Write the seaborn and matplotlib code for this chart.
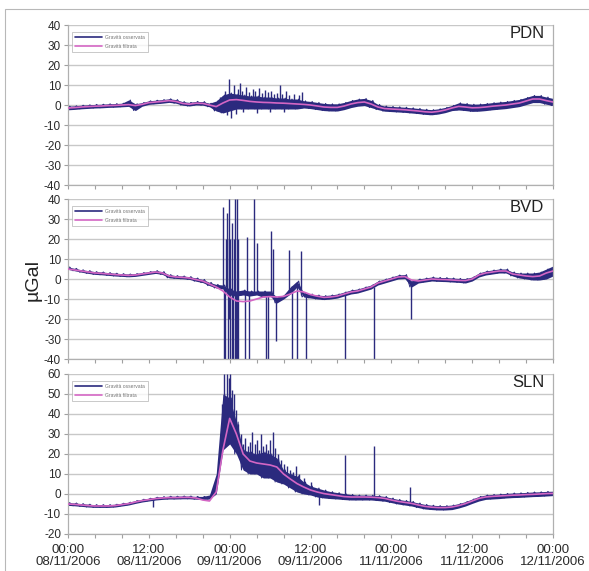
import numpy as np
import pandas as pd
import matplotlib
matplotlib.use("Agg")
import matplotlib.pyplot as plt
from matplotlib.patches import Rectangle
import seaborn as sns

# ---------------------------------------------------------------- data
hours = list(range(73))  # hourly samples from 08/11/2006 00:00

tick_hours = [0, 12, 24, 36, 48, 60, 72]
tick_labels = ["00:00\n08/11/2006", "12:00\n08/11/2006", "00:00\n09/11/2006",
               "12:00\n09/11/2006", "00:00\n11/11/2006", "12:00\n11/11/2006",
               "00:00\n12/11/2006"]

# PDN station
pdn_filt = [-1.5, -1.3, -1.0, -0.8, -0.6, -0.5, -0.3, -0.2, 0.0, 0.2,
            -0.3, 0.3, 1.2, 1.5, 1.8, 2.2, 1.8, 0.8, 0.4, 0.9,
            0.8, 0.0, -0.8, 1.0, 2.5, 2.7, 2.3, 1.8, 1.5, 1.3,
            1.2, 1.0, 0.9, 0.7, 0.5, 0.3, 0.0, -0.5, -1.0, -1.2,
            -1.2, -0.5, 0.5, 1.2, 1.5, 0.5, -1.0, -1.8, -2.0, -2.2,
            -2.4, -2.7, -3.0, -3.4, -3.6, -3.2, -2.5, -1.5, -0.7, -1.0,
            -1.4, -1.3, -1.0, -0.6, -0.3, 0.0, 0.5, 1.0, 2.0, 3.0,
            3.0, 2.2, 1.5]
pdn_hi = [-0.6, -0.4, -0.1, 0.1, 0.3, 0.4, 0.6, 0.7, 0.9, 2.5,
          0.6, 1.2, 2.1, 2.4, 2.7, 3.1, 2.7, 1.7, 1.3, 1.8,
          1.7, 0.9, 2.0, 5.0, 6.0, 5.5, 5.0, 4.5, 4.5, 4.0,
          4.0, 3.5, 3.5, 3.0, 3.0, 2.1, 1.8, 1.3, 0.8, 0.6,
          0.6, 1.3, 2.3, 3.0, 3.3, 2.3, 0.3, -0.5, -0.7, -0.9,
          -1.1, -1.4, -1.7, -2.1, -2.3, -1.9, -1.2, -0.2, 1.1, 0.8,
          0.4, 0.5, 0.8, 1.2, 1.5, 1.8, 2.3, 2.8, 3.8, 4.8,
          4.8, 4.0, 3.3]
pdn_lo = [-2.4, -2.2, -1.9, -1.7, -1.5, -1.4, -1.2, -1.1, -0.9, -0.7,
          -2.8, -0.6, 0.3, 0.6, 0.9, 1.3, 0.9, -0.1, -0.5, 0.0,
          -0.1, -0.9, -3.0, -4.0, -3.0, -2.0, -2.0, -2.0, -2.0, -2.0,
          -2.0, -2.0, -2.0, -2.0, -2.0, -1.5, -1.8, -2.3, -2.8, -3.0,
          -3.0, -2.3, -1.3, -0.6, -0.3, -1.3, -2.3, -3.1, -3.3, -3.5,
          -3.7, -4.0, -4.3, -4.7, -4.9, -4.5, -3.8, -2.8, -2.5, -2.8,
          -3.2, -3.1, -2.8, -2.4, -2.1, -1.8, -1.3, -0.8, 0.2, 1.2,
          1.2, 0.4, -0.3]
pdn_spike_t = [22.6, 23.3, 23.6, 23.9, 24.2, 24.6, 25.0, 25.2, 25.5, 25.9,
               26.0, 26.4, 26.9, 27.4, 27.8, 28.0, 28.3, 28.8, 29.3, 29.7,
               30.0, 30.2, 30.6, 31.0, 31.4, 31.8, 32.0, 32.3, 32.8, 33.5,
               34.3, 34.8]
pdn_spike_v = [4.0, 7.0, -5.0, 13.0, -6.5, 10.0, -4.5, 8.0, 11.0, 7.0,
               -3.5, 9.0, 6.5, 8.0, 7.0, -4.0, 8.5, 6.0, 7.5, 6.5,
               -3.5, 7.0, 5.5, 6.0, 10.0, 5.5, -3.5, 7.0, 5.0, 5.5,
               5.0, 6.5]

# BVD station
bvd_filt = [5.0, 4.5, 4.0, 3.5, 3.0, 2.8, 2.5, 2.2, 2.0, 1.8,
            2.0, 2.5, 3.0, 3.5, 3.0, 1.5, 1.0, 0.8, 0.5, -0.3,
            -1.0, -2.5, -4.0, -6.0, -9.0, -11.0, -11.3, -11.0, -10.0, -9.0,
            -8.8, -9.0, -8.7, -7.5, -6.0, -6.5, -7.8, -8.6, -9.2, -9.0,
            -8.5, -7.5, -6.5, -6.0, -5.0, -4.0, -2.0, -1.0, 0.0, 1.0,
            1.2, -0.5, -1.0, -0.5, 0.0, -0.2, -0.3, -0.5, -0.7, -0.8,
            0.0, 2.0, 3.0, 3.5, 4.0, 4.0, 2.5, 2.0, 1.5, 1.2,
            1.5, 3.0, 4.0]
bvd_hi = [6.0, 5.3, 4.6, 4.2, 3.7, 3.5, 3.2, 2.9, 2.7, 2.5,
          2.7, 3.2, 3.7, 4.2, 3.7, 2.2, 1.7, 1.5, 1.2, 0.5,
          -0.2, -1.7, -2.7, -3.0, -5.0, -6.0, -5.5, -6.0, -6.0, -6.0,
          -6.0, -9.0, -8.0, -4.0, -1.0, -7.0, -7.5, -8.0, -8.3, -8.0,
          -7.5, -6.5, -5.5, -5.0, -4.0, -3.0, -1.0, 0.0, 1.0, 2.0,
          2.2, -1.0, 0.0, 0.5, 1.0, 0.8, 0.7, 0.5, 0.3, 0.2,
          1.0, 3.0, 4.0, 4.5, 5.0, 5.0, 3.5, 3.0, 3.0, 3.0,
          3.5, 5.0, 6.5]
bvd_lo = [4.8, 4.1, 3.4, 2.8, 2.3, 2.1, 1.8, 1.5, 1.3, 1.1,
          1.3, 1.8, 2.3, 2.8, 2.3, 0.6, 0.3, 0.1, -0.2, -1.1,
          -1.8, -3.3, -4.5, -5.0, -8.0, -8.5, -8.0, -8.5, -8.0, -9.0,
          -8.5, -12.0, -10.0, -7.5, -4.0, -9.0, -9.5, -10.0, -10.3, -10.0,
          -9.5, -8.5, -7.5, -7.0, -6.0, -5.0, -3.0, -2.0, -1.0, 0.0,
          0.2, -4.0, -2.0, -1.5, -1.0, -1.2, -1.3, -1.5, -1.7, -2.0,
          -1.0, 1.0, 2.0, 2.5, 3.0, 3.0, 1.5, 0.5, 0.0, -0.5,
          -0.5, 0.0, 1.5]
bvd_spike_t = [23.05, 23.15, 23.3, 23.45, 23.56, 23.65, 23.75, 23.85, 23.95, 24.05,
               24.12, 24.3, 24.4, 24.5, 24.65, 24.75, 24.8, 24.94, 25.05, 25.13,
               25.2, 25.3, 26.28, 26.53, 26.9, 27.54, 28.13, 29.32, 29.74, 30.09,
               30.5, 30.88, 32.85, 33.3, 34.04, 34.59, 35.33, 41.12, 45.47, 50.88]
bvd_spike_v = [36, -40, -40, 20, 33, 20, -40, -20, 40, 20,
               -40, 28, -40, -40, 20, -40, 40, -40, -40, 40,
               20, -40, -40, 21, -40, 40, 18, -40, -40, 24,
               15, -31, 14.5, -40, -40, 14, -40, -40, -40, -20]

# SLN station
sln_filt = [-5.0, -5.2, -5.5, -5.8, -6.0, -6.0, -6.0, -5.8, -5.3, -4.8,
            -4.0, -3.3, -2.8, -2.3, -2.0, -1.8, -1.8, -1.7, -1.7, -2.0,
            -3.0, -3.5, 1.0, 22.0, 37.8, 30.0, 20.0, 16.5, 15.5, 15.0,
            14.5, 13.5, 10.0, 7.5, 5.2, 3.5, 2.0, 1.0, 0.2, -0.3,
            -0.8, -1.3, -1.5, -1.5, -1.5, -1.6, -1.8, -2.2, -3.0, -3.7,
            -4.2, -4.7, -5.5, -6.2, -6.6, -6.8, -6.8, -6.5, -5.8, -4.8,
            -3.5, -2.2, -1.5, -1.2, -1.0, -0.8, -0.6, -0.5, -0.3, -0.2,
            0.0, 0.2, 0.3]
sln_hi = [-4.3, -4.5, -4.8, -5.1, -5.3, -5.3, -5.3, -5.1, -4.6, -4.1,
          -3.3, -2.6, -2.1, -1.6, -1.3, -1.1, -1.1, -1.0, -1.0, -1.2,
          -1.2, -0.5, 10.0, 50.0, 48.0, 36.0, 22.0, 21.0, 20.0, 21.0,
          20.0, 18.0, 12.0, 10.0, 9.0, 6.0, 4.0, 3.0, 2.0, 1.2,
          0.7, 0.2, -0.2, -0.5, -0.5, -0.6, -0.8, -1.2, -2.0, -2.7,
          -3.2, -3.7, -4.5, -5.2, -5.6, -5.8, -5.8, -5.5, -4.8, -3.8,
          -2.5, -1.2, -0.5, -0.2, 0.0, 0.3, 0.5, 0.6, 0.8, 1.0,
          1.1, 1.3, 1.4]
sln_lo = [-5.7, -5.9, -6.2, -6.5, -6.7, -6.7, -6.7, -6.5, -6.0, -5.5,
          -4.7, -4.0, -3.5, -3.0, -2.7, -2.5, -2.5, -2.4, -2.4, -2.6,
          -2.8, -2.5, 0.0, 22.0, 25.0, 20.0, 12.0, 10.0, 10.0, 8.0,
          8.0, 6.0, 5.0, 3.0, 1.0, 0.0, -0.5, -1.5, -2.0, -2.3,
          -2.5, -2.8, -3.0, -3.0, -3.0, -3.0, -3.3, -3.6, -4.3, -5.0,
          -5.5, -6.0, -6.8, -7.5, -7.8, -8.0, -8.0, -7.8, -7.0, -6.0,
          -4.7, -3.5, -2.7, -2.5, -2.3, -2.0, -1.8, -1.7, -1.5, -1.3,
          -1.2, -1.0, -0.8]
sln_spike_t = [12.6, 22.9, 23.2, 23.6, 23.9, 24.1, 24.4, 24.7, 25.0, 25.3,
               25.7, 26.0, 26.3, 26.7, 27.0, 27.3, 27.7, 28.0, 28.3, 28.6,
               29.0, 29.4, 29.7, 30.0, 30.4, 30.8, 31.2, 31.6, 32.0, 32.5,
               33.0, 33.4, 33.8, 34.3, 35.0, 36.0, 37.2, 41.1, 45.4, 50.8]
sln_spike_v = [-6.5, 45, 60, 60, 58, 60, 52, 50, 42, 35,
               30, 25, 28, 24, 26, 31, 25, 27, 22, 30,
               24, 25, 22, 27, 31, 23, 20, 17, 15, 14,
               12, 11, 14, 10, 8, 6, -5.5, 19.5, 24, 3.3]

stations = [
    ("PDN", pdn_filt, pdn_hi, pdn_lo, pdn_spike_t, pdn_spike_v, (-40, 40)),
    ("BVD", bvd_filt, bvd_hi, bvd_lo, bvd_spike_t, bvd_spike_v, (-40, 40)),
    ("SLN", sln_filt, sln_hi, sln_lo, sln_spike_t, sln_spike_v, (-20, 60)),
]

OBS_COLOR = "#2b2a7e"
FILT_COLOR = "#d466c4"
GRID_COLOR = "#c8c8c8"


def swing_frame(lo, hi):
    """Observed record as its hourly low/high swing, traced as one line."""
    h = np.asarray(hours, dtype=float)
    t = np.concatenate([h - 0.25, h + 0.25])
    v = np.concatenate([lo, hi])
    return pd.DataFrame({"t": t, "v": v}).sort_values("t")


# ---------------------------------------------------------------- figure
sns.set_style("white")
plt.rcParams["font.family"] = ["Liberation Sans", "DejaVu Sans"]
plt.rcParams["axes.unicode_minus"] = False

fig = plt.figure(figsize=(5.89, 5.71), dpi=100)

# light frame around the chart area
fig.patches.append(Rectangle((5 / 589, -0.02), 1.0, (571 - 9.5) / 571 + 0.02,
                             transform=fig.transFigure, fill=False,
                             edgecolor="#b8b8b8", linewidth=0.8))

left, width = 68 / 589, 485 / 589
panel_tops = [25, 199, 374]
panel_h = 160

axes = []
for (name, filt, hi, lo, st, sv, ylim), top in zip(stations, panel_tops):
    bottom = (571 - top - panel_h) / 571
    ax = fig.add_axes([left, bottom, width, panel_h / 571])
    axes.append(ax)

    # observed gravity: filled hourly swing, its trace and the isolated spikes
    ax.fill_between(hours, lo, hi, color=OBS_COLOR, lw=0, zorder=2)
    sns.lineplot(data=swing_frame(lo, hi), x="t", y="v", ax=ax,
                 color=OBS_COLOR, lw=0.7, estimator=None, sort=False,
                 label="Gravità osservata", zorder=2)
    idx = np.clip(np.rint(st).astype(int), 0, len(hours) - 1)
    base = [(hi[i] + lo[i]) / 2 for i in idx]
    ax.vlines(st, base, sv, color=OBS_COLOR, lw=1.0, zorder=2)

    # filtered gravity
    filt_df = pd.DataFrame({"t": hours, "v": filt})
    sns.lineplot(data=filt_df, x="t", y="v", ax=ax, color=FILT_COLOR, lw=1.2,
                 estimator=None, label="Gravità filtrata", zorder=3)

    ax.set_xlim(0, 72)
    ax.set_ylim(*ylim)
    ax.set_yticks(np.arange(ylim[0], ylim[1] + 1, 10))
    ax.yaxis.grid(True, color=GRID_COLOR, lw=1.0)
    ax.xaxis.grid(False)
    ax.set_axisbelow(True)
    ax.set_xlabel("")
    ax.set_ylabel("")

    ax.set_xticks(tick_hours)
    ax.set_xticks(np.arange(0, 73, 4), minor=True)
    ax.tick_params(axis="x", which="both", direction="out", length=3,
                   color="#a0a0a0", width=0.8, bottom=True)
    ax.tick_params(axis="y", direction="out", length=3, color="#a0a0a0",
                   width=0.8, left=True, labelsize=8.5, labelcolor="#2a2a2a",
                   pad=2)

    for side in ("left", "bottom", "right"):
        ax.spines[side].set_color("#b0b0b0")
        ax.spines[side].set_linewidth(0.9)
    ax.spines["top"].set_visible(False)

    ax.text(0.982, 0.945, name, transform=ax.transAxes, ha="right",
            va="center", fontsize=12, color="#222222")

    leg = ax.legend(loc="upper left", bbox_to_anchor=(0.008, 0.955),
                    fontsize=3.6, frameon=True, fancybox=False,
                    handlelength=5.5, borderpad=0.6, labelspacing=0.7,
                    handletextpad=0.6, borderaxespad=0.0)
    leg.get_frame().set_edgecolor("#b0b0b0")
    leg.get_frame().set_linewidth(0.6)
    for txt in leg.get_texts():
        txt.set_color("#777777")
    for line in leg.get_lines():
        line.set_linewidth(1.2)

for ax in axes[:-1]:
    ax.set_xticklabels([])

axes[-1].set_xticklabels(tick_labels, fontsize=9.5, color="#2a2a2a",
                         linespacing=1.05)
axes[-1].tick_params(axis="x", pad=4)

fig.text(33 / 589, 1 - 280 / 571, "µGal", rotation=90, ha="center",
         va="center", fontsize=14, color="#222222")

fig.savefig("out.png", dpi=100)
